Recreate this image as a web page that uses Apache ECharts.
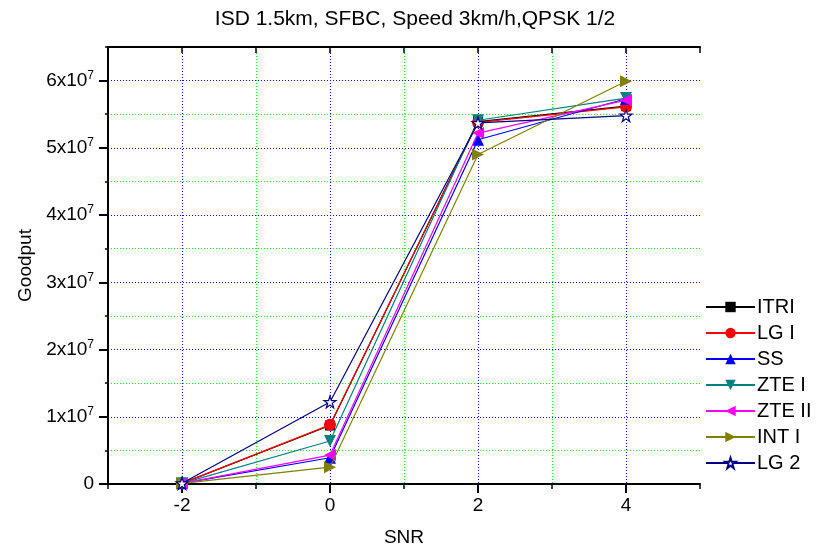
<!DOCTYPE html>
<html>
<head>
<meta charset="utf-8">
<script src="https://cdn.jsdelivr.net/npm/echarts@6/dist/echarts.min.js"></script>
<style>html,body{margin:0;padding:0;background:#fff}#c{width:830px;height:553px}</style>
</head>
<body>
<div id="c"></div>
<script>
const titleText = 'ISD 1.5km, SFBC, Speed 3km/h,QPSK 1/2';
const snr = [-2, 0, 2, 4];
const seriesNames = ['ITRI', 'LG I', 'SS', 'ZTE I', 'ZTE II', 'INT I', 'LG 2'];
const itri  = [100000, 8700000, 53900000, 56200000];
const lgI   = [100000, 8800000, 53800000, 56100000];
const ss    = [100000, 3900000, 51200000, 57300000];
const zteI  = [100000, 6400000, 54100000, 57400000];
const zteII = [100000, 4300000, 52200000, 57100000];
const intI  = [100000, 2500000, 49000000, 59900000];
const lg2   = [100000, 12200000, 53700000, 54800000];
const xTickLabels = [-2, 0, 2, 4];
const yTickLabels = [0, 1, 2, 3, 4, 5, 6];

const values = [itri, lgI, ss, zteI, zteII, intI, lg2];
const colors = ['#000000', '#ff0000', '#0000ff', '#008080', '#ff00ff', '#808000', '#000080'];
const starPath = 'path://M50,0 L61.8,36.2 L100,36.2 L69.1,58.8 L80.9,95.1 L50,72.4 L19.1,95.1 L30.9,58.8 L0,36.2 L38.2,36.2 Z';
const symbols = ['rect', 'circle', 'triangle', 'triangle', 'triangle', 'triangle', starPath];
const rotates = [0, 0, 0, 180, 90, -90, 0];
const sizes = [10, 12, 12, 12, 12, 12, 12];
const FONT = 'Liberation Sans, Arial, sans-serif';

const series = seriesNames.map((name, i) => ({
  name: name,
  type: 'line',
  data: snr.map((x, j) => [x, values[i][j]]),
  symbol: symbols[i],
  symbolSize: sizes[i],
  symbolRotate: rotates[i],
  lineStyle: { color: colors[i], width: 1.2 },
  itemStyle: i === 6 ? { color: '#ffffff', borderColor: colors[i], borderWidth: 1.2 } : { color: colors[i], borderWidth: 0 },
  z: 10 + i,
  animation: false
}));

const chart = echarts.init(document.getElementById('c'), null, { renderer: 'canvas' });

chart.setOption({
  backgroundColor: '#fff',
  animation: false,
  title: {
    text: titleText, left: 'center', top: 4,
    textStyle: { fontFamily: FONT, fontSize: 21, fontWeight: 'normal', color: '#000' }
  },
  grid: { left: 108, right: 130, top: 47, bottom: 69 },
  legend: {
    orient: 'vertical', left: 700, top: 292,
    itemWidth: 49, itemHeight: 13, itemGap: 6,
    textStyle: { fontFamily: FONT, fontSize: 20, color: '#000', padding: [0, 0, 0, -3] },
    data: seriesNames,
    selectedMode: false
  },
  xAxis: [
    {
      type: 'value', position: 'bottom', min: -3, max: 5, interval: 1,
      name: 'SNR', nameLocation: 'middle', nameGap: 44,
      nameTextStyle: { fontFamily: FONT, fontSize: 19, color: '#000' },
      axisLine: { show: true, onZero: false, lineStyle: { color: '#000', width: 2 } },
      axisTick: { show: true, inside: false, length: 5, lineStyle: { color: '#000', width: 1.5 } },
      axisLabel: {
        fontFamily: FONT, fontSize: 19, color: '#000', margin: 12,
        formatter: v => (xTickLabels.indexOf(v) >= 0 ? String(v) : '')
      },
      splitLine: { show: true, showMinLine: false, showMaxLine: false, lineStyle: { type: [1, 2], width: 1, color: ['#0000ff', '#00ff00'] } }
    },
    {
      type: 'value', position: 'bottom', min: -3, max: 5, interval: 1,
      axisLine: { show: false, onZero: false },
      axisTick: { show: true, inside: false, length: 9, customValues: xTickLabels, lineStyle: { color: '#000', width: 2 } },
      axisLabel: { show: false },
      splitLine: { show: false }
    },
    {
      type: 'value', position: 'top', min: -3, max: 5, interval: 1,
      axisLine: { show: true, onZero: false, lineStyle: { color: '#000', width: 2 } },
      axisTick: { show: true, inside: true, length: 6, lineStyle: { color: '#000', width: 1.5 } },
      axisLabel: { show: false },
      splitLine: { show: false }
    }
  ],
  yAxis: [
    {
      type: 'value', position: 'left', min: 0, max: 65000000, interval: 5000000,
      name: 'Goodput', nameLocation: 'middle', nameGap: 72, nameRotate: 90,
      nameTextStyle: { fontFamily: FONT, fontSize: 19, color: '#000' },
      axisLine: { show: true, onZero: false, lineStyle: { color: '#000', width: 2 } },
      axisTick: { show: true, inside: false, length: 3, lineStyle: { color: '#000', width: 1.5 } },
      axisLabel: {
        margin: 14,
        formatter: v => {
          if (v === 0) return '{a|0}';
          if (v % 10000000 === 0) return '{a|' + (v / 10000000) + 'x10}{s|7}';
          return '';
        },
        rich: {
          a: { fontFamily: FONT, fontSize: 19, color: '#000' },
          s: { fontFamily: FONT, fontSize: 12, color: '#000', padding: [0, 0, 10, 0] }
        }
      },
      splitLine: { show: true, showMinLine: false, showMaxLine: false, lineStyle: { type: [1, 2], width: 1, color: ['#00ff00', '#0000ff'] } }
    },
    {
      type: 'value', position: 'left', min: 0, max: 65000000, interval: 5000000,
      axisLine: { show: false, onZero: false },
      axisTick: { show: true, inside: false, length: 9, customValues: yTickLabels.map(v => v * 10000000), lineStyle: { color: '#000', width: 2 } },
      axisLabel: { show: false },
      splitLine: { show: false }
    }
  ],
  series: series
});
</script>
</body>
</html>
